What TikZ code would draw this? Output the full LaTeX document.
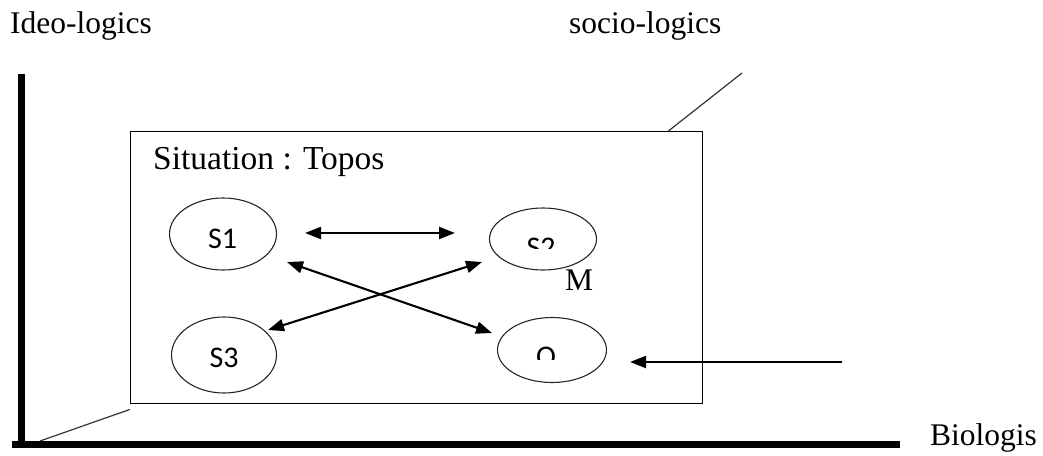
\documentclass[tikz,border=0pt]{standalone}
\usepackage{fontspec}
\setmainfont{Liberation Serif}
\newfontfamily\calib{Carlito}
\usetikzlibrary{shapes.geometric,arrows.meta}
\begin{document}
\begin{tikzpicture}[x=1pt,y=-1pt,
  lbl/.style={font=\fontsize{31.5}{31.5}\selectfont,inner sep=0pt,anchor=base west},
  ell/.style={draw=black!85,line width=1.1pt,ellipse,inner sep=0pt},
  stxt/.style={font=\calib\fontsize{30}{30}\selectfont,inner sep=0pt,anchor=base},
  axis/.style={line width=7pt},
  dbl/.style={line width=2.1pt,{Triangle[length=16pt,width=12pt]}-{Triangle[length=16pt,width=12pt]}},
  sgl/.style={line width=2.1pt,-{Triangle[length=16pt,width=12pt]}},
  thin/.style={line width=1.2pt,draw=black!80}]
\useasboundingbox (0,0) rectangle (1043,455);
% axes
\coordinate (vtop) at (21.5,74);
\coordinate (vbot) at (21.5,447.5);
\coordinate (hl) at (12,444);
\coordinate (hr) at (900,444);
\draw[axis] (vtop) -- (vbot);
\draw[axis] (hl) -- (hr);
% box
\node[draw,line width=1.4pt,minimum width=572pt,minimum height=272pt,inner sep=0pt,anchor=north west] (box) at (130,131) {};
\coordinate (tdl) at (742,73);
\coordinate (bdl) at (40,441);
\draw[thin] (box.north east) ++(-35pt,0) coordinate (tdb) -- (tdl);
\draw[thin] (box.south west) ++(0,-5pt) coordinate (bdb) -- (bdl);
% labels
\node[lbl] (ideo) at (10,33) {Ideo-logics};
\node[lbl] (socio) at (569,33) {socio-logics};
\node[lbl] (bio) at (930,445) {Biologis};
\node[lbl,font=\fontsize{33.5}{33.5}\selectfont] (sit) at (153,169) {Situation : Topos};
\node[lbl] (m) at (565,290) {M};
% ellipses
\node[ell,minimum width=107pt,minimum height=72pt] (s1) at (223,234) {};
\node[ell,minimum width=107pt,minimum height=62pt] (s2) at (543,239) {};
\node[ell,minimum width=105pt,minimum height=76pt] (s3) at (224,355) {};
\node[ell,minimum width=109pt,minimum height=65pt] (o) at (552,350) {};
\node[stxt] (s1t) at (222.5,248) {S1};
\node[stxt] (s3t) at (224,367) {S3};
\begin{scope}
\clip (500,220) rectangle (590,248);
\node[stxt] (s2t) at (541,257) {S2};
\end{scope}
\begin{scope}
\clip (510,330) rectangle (590,359);
\node[stxt] (ot) at (546,366.5) {O};
\end{scope}
% arrows
\coordinate (h1) at (305,233);
\coordinate (h2) at (455,233);
\coordinate (d1a) at (287,262);
\coordinate (d1b) at (492,333);
\coordinate (d2a) at (268,330);
\coordinate (d2b) at (482,262);
\coordinate (ra) at (842,362);
\coordinate (rb) at (630,362);
\draw[dbl] (h1) -- (h2);
\draw[dbl] (d1a) -- (d1b);
\draw[dbl] (d2a) -- (d2b);
\draw[sgl] (ra) -- (rb);
\end{tikzpicture}
\end{document}
